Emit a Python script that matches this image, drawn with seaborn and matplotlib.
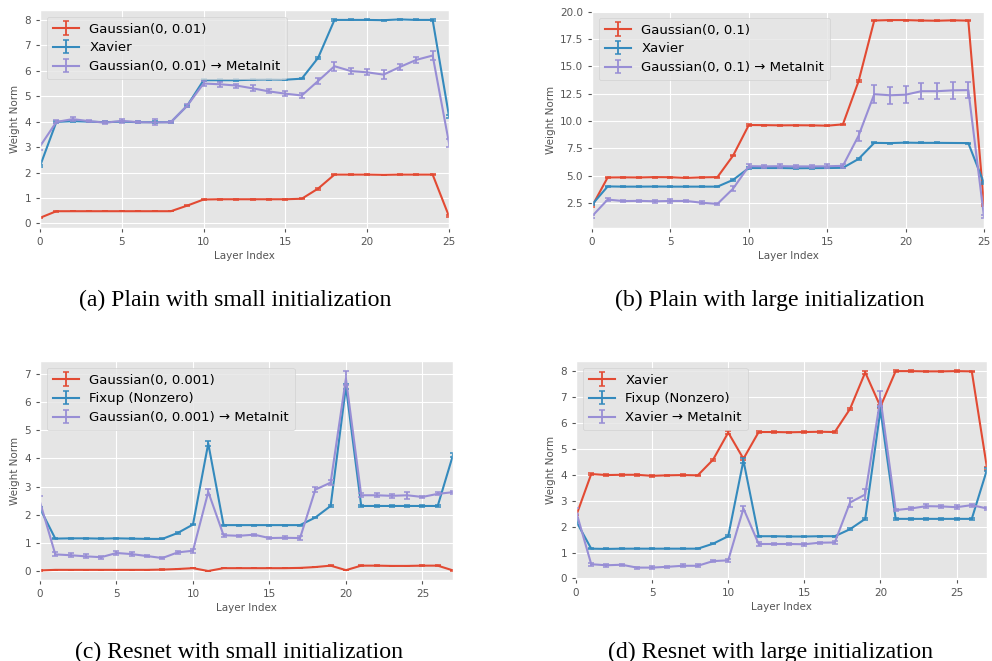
import matplotlib
matplotlib.use("Agg")
import matplotlib.pyplot as plt
from matplotlib.container import ErrorbarContainer
import seaborn as sns
import pandas as pd

# ---------------- data ----------------
layers_plain = list(range(26))
layers_res = list(range(28))

a_labels = ["Gaussian(0, 0.01)", "Xavier", "Gaussian(0, 0.01) → MetaInit"]
a_gauss = [0.22, 0.48, 0.48, 0.48, 0.48, 0.48, 0.48, 0.48, 0.48, 0.70, 0.94, 0.95, 0.95,
           0.95, 0.95, 0.95, 0.97, 1.37, 1.92, 1.92, 1.92, 1.91, 1.92, 1.92, 1.92, 0.28]
a_gauss_err = [0.02, 0.02, 0.01, 0.01, 0.01, 0.01, 0.01, 0.01, 0.01, 0.02, 0.02, 0.01, 0.01,
               0.01, 0.01, 0.01, 0.02, 0.04, 0.02, 0.01, 0.01, 0.01, 0.01, 0.01, 0.02, 0.04]
a_xavier = [2.25, 3.99, 4.02, 4.00, 3.98, 4.00, 3.98, 3.98, 3.98, 4.63, 5.63, 5.63, 5.63,
            5.65, 5.66, 5.65, 5.69, 6.51, 8.00, 8.00, 8.00, 7.99, 8.02, 8.00, 8.00, 4.22]
a_xavier_err = [0.04, 0.04, 0.03, 0.03, 0.03, 0.03, 0.03, 0.03, 0.03, 0.04, 0.04, 0.03, 0.03,
                0.03, 0.03, 0.03, 0.03, 0.04, 0.03, 0.02, 0.02, 0.02, 0.02, 0.02, 0.03, 0.06]
a_meta = [3.03, 3.99, 4.10, 4.02, 3.96, 4.03, 3.98, 3.97, 3.98, 4.63, 5.50, 5.47, 5.42,
          5.31, 5.19, 5.10, 5.03, 5.60, 6.18, 5.99, 5.94, 5.85, 6.15, 6.43, 6.60, 3.16]
a_meta_err = [0.15, 0.06, 0.08, 0.05, 0.06, 0.09, 0.05, 0.12, 0.05, 0.06, 0.08, 0.10, 0.08,
              0.12, 0.08, 0.10, 0.08, 0.10, 0.17, 0.13, 0.12, 0.17, 0.10, 0.12, 0.17, 0.15]

b_labels = ["Gaussian(0, 0.1)", "Xavier", "Gaussian(0, 0.1) → MetaInit"]
b_gauss = [2.20, 4.84, 4.85, 4.84, 4.87, 4.86, 4.80, 4.85, 4.87, 6.84, 9.63, 9.62, 9.60,
           9.61, 9.60, 9.57, 9.69, 13.63, 19.18, 19.22, 19.22, 19.18, 19.16, 19.20, 19.17, 2.30]
b_gauss_err = [0.08, 0.06, 0.04, 0.04, 0.04, 0.04, 0.04, 0.04, 0.05, 0.08, 0.06, 0.04, 0.04,
               0.04, 0.04, 0.04, 0.05, 0.10, 0.06, 0.04, 0.04, 0.04, 0.04, 0.04, 0.06, 0.10]
b_xavier = [2.35, 4.02, 4.00, 4.00, 4.01, 4.00, 4.00, 4.00, 4.00, 4.62, 5.70, 5.70, 5.70,
            5.68, 5.69, 5.70, 5.72, 6.53, 8.00, 7.98, 8.02, 8.00, 8.00, 7.99, 7.98, 4.30]
b_xavier_err = [0.06, 0.05, 0.04, 0.04, 0.04, 0.04, 0.04, 0.04, 0.04, 0.06, 0.06, 0.04, 0.04,
                0.04, 0.04, 0.04, 0.04, 0.06, 0.05, 0.04, 0.04, 0.04, 0.04, 0.04, 0.05, 0.08]
b_meta = [1.29, 2.82, 2.68, 2.70, 2.66, 2.69, 2.69, 2.53, 2.42, 3.82, 5.87, 5.85, 5.87,
          5.85, 5.85, 5.86, 5.90, 8.65, 12.45, 12.35, 12.40, 12.72, 12.72, 12.80, 12.82, 1.25]
b_meta_err = [0.12, 0.15, 0.12, 0.12, 0.12, 0.14, 0.12, 0.12, 0.12, 0.20, 0.18, 0.14, 0.16,
              0.14, 0.14, 0.17, 0.16, 0.45, 0.80, 0.80, 0.80, 0.75, 0.75, 0.75, 0.75, 0.15]

c_labels = ["Gaussian(0, 0.001)", "Fixup (Nonzero)", "Gaussian(0, 0.001) → MetaInit"]
c_gauss = [0.02, 0.04, 0.04, 0.04, 0.04, 0.04, 0.04, 0.04, 0.05, 0.07, 0.10, 0.00, 0.10, 0.10,
           0.10, 0.10, 0.10, 0.11, 0.14, 0.19, 0.03, 0.19, 0.19, 0.18, 0.18, 0.19, 0.19, 0.02]
c_gauss_err = [0.01, 0.01, 0.01, 0.01, 0.01, 0.01, 0.01, 0.01, 0.01, 0.01, 0.01, 0.01, 0.01, 0.01,
               0.01, 0.01, 0.01, 0.01, 0.01, 0.01, 0.01, 0.01, 0.01, 0.01, 0.01, 0.01, 0.01, 0.01]
c_fixup = [2.22, 1.15, 1.16, 1.16, 1.15, 1.16, 1.15, 1.14, 1.14, 1.35, 1.65, 4.53, 1.63, 1.63,
           1.63, 1.63, 1.63, 1.63, 1.90, 2.31, 6.55, 2.31, 2.31, 2.31, 2.31, 2.31, 2.31, 4.12]
c_fixup_err = [0.04, 0.02, 0.02, 0.02, 0.02, 0.02, 0.02, 0.02, 0.02, 0.02, 0.03, 0.08, 0.02, 0.02,
               0.02, 0.02, 0.02, 0.02, 0.03, 0.03, 0.10, 0.03, 0.03, 0.03, 0.03, 0.03, 0.03, 0.06]
c_meta = [2.45, 0.59, 0.56, 0.52, 0.49, 0.64, 0.60, 0.53, 0.46, 0.66, 0.72, 2.81, 1.27, 1.25,
          1.29, 1.17, 1.18, 1.17, 2.89, 3.14, 6.84, 2.69, 2.69, 2.67, 2.69, 2.63, 2.74, 2.80]
c_meta_err = [0.20, 0.07, 0.07, 0.07, 0.06, 0.06, 0.06, 0.05, 0.04, 0.06, 0.07, 0.12, 0.05, 0.04,
              0.04, 0.05, 0.06, 0.06, 0.10, 0.08, 0.25, 0.07, 0.07, 0.07, 0.12, 0.05, 0.05, 0.05]

d_labels = ["Xavier", "Fixup (Nonzero)", "Xavier → MetaInit"]
d_xavier = [2.40, 4.03, 3.99, 4.00, 4.00, 3.96, 3.98, 3.99, 3.98, 4.58, 5.63, 4.62, 5.65, 5.65,
            5.64, 5.65, 5.66, 5.65, 6.54, 7.95, 6.63, 8.00, 8.00, 7.99, 7.99, 8.00, 7.99, 4.26]
d_xavier_err = [0.05, 0.04, 0.03, 0.03, 0.03, 0.03, 0.03, 0.03, 0.03, 0.04, 0.05, 0.06, 0.03, 0.03,
                0.03, 0.03, 0.03, 0.03, 0.05, 0.05, 0.06, 0.03, 0.03, 0.03, 0.03, 0.03, 0.03, 0.06]
d_fixup = [2.22, 1.15, 1.14, 1.15, 1.15, 1.15, 1.15, 1.15, 1.15, 1.34, 1.63, 4.55, 1.63, 1.63,
           1.62, 1.62, 1.63, 1.63, 1.90, 2.30, 6.50, 2.30, 2.30, 2.30, 2.30, 2.30, 2.30, 4.20]
d_fixup_err = c_fixup_err
d_meta = [2.60, 0.55, 0.51, 0.53, 0.42, 0.42, 0.45, 0.49, 0.49, 0.67, 0.70, 2.70, 1.33, 1.33,
          1.33, 1.32, 1.38, 1.39, 2.93, 3.24, 6.95, 2.64, 2.70, 2.79, 2.78, 2.75, 2.83, 2.70]
d_meta_err = [0.12, 0.05, 0.05, 0.04, 0.04, 0.06, 0.05, 0.05, 0.06, 0.05, 0.06, 0.10, 0.06, 0.04,
              0.05, 0.06, 0.04, 0.05, 0.18, 0.20, 0.28, 0.05, 0.07, 0.07, 0.06, 0.08, 0.06, 0.05]

captions = ["(a) Plain with small initialization", "(b) Plain with large initialization",
            "(c) Resnet with small initialization", "(d) Resnet with large initialization"]

# ---------------- style ----------------
plt.style.use("ggplot")
colors = ["#E24A33", "#348ABD", "#988ED5"]
W, H = 992, 661
fig = plt.figure(figsize=(W / 100, H / 100), dpi=100)


def px_axes(left, right, top, bottom):
    return fig.add_axes([left / W, 1 - bottom / H, (right - left) / W, (bottom - top) / H])


def panel(ax, xs, series, errs, labels, xlim, ylim, yticks):
    handles = []
    for ys, es, lab, col in zip(series, errs, labels, colors):
        df = pd.DataFrame({"layer": xs, "norm": ys})
        sns.lineplot(data=df, x="layer", y="norm", ax=ax, color=col, linewidth=1.5,
                     legend=False, errorbar=None)
        line = ax.lines[-1]
        eb = ax.errorbar(xs, ys, yerr=es, fmt="none", ecolor=col, elinewidth=1.3,
                         capsize=2.5, capthick=1.1)
        handles.append(ErrorbarContainer((line, eb.lines[1], eb.lines[2]),
                                         has_xerr=False, has_yerr=True, label=lab))
    ax.set_xlim(*xlim)
    ax.set_ylim(*ylim)
    ax.set_xticks([0, 5, 10, 15, 20, 25])
    ax.set_yticks(yticks)
    ax.tick_params(labelsize=7.5, colors="#555555", length=3)
    ax.set_xlabel("Layer Index", fontsize=7.5, color="#555555", labelpad=3)
    ax.set_ylabel("Weight Norm", fontsize=7.5, color="#555555", labelpad=3)
    ax.legend(handles=handles, labels=labels, loc="upper left", fontsize=9.5,
              handlelength=2.0, borderpad=0.45, labelspacing=0.45, handletextpad=0.8)


ax_a = px_axes(40, 449, 10, 228)
panel(ax_a, layers_plain, [a_gauss, a_xavier, a_meta], [a_gauss_err, a_xavier_err, a_meta_err],
      a_labels, (0, 25), (-0.18, 8.39), [0, 1, 2, 3, 4, 5, 6, 7, 8])

ax_b = px_axes(592, 984, 11, 228)
panel(ax_b, layers_plain, [b_gauss, b_xavier, b_meta], [b_gauss_err, b_xavier_err, b_meta_err],
      b_labels, (0, 25), (0.22, 20.05), [2.5, 5.0, 7.5, 10.0, 12.5, 15.0, 17.5, 20.0])

ax_c = px_axes(40, 453, 361, 580)
panel(ax_c, layers_res, [c_gauss, c_fixup, c_meta], [c_gauss_err, c_fixup_err, c_meta_err],
      c_labels, (0, 27), (-0.32, 7.46), [0, 1, 2, 3, 4, 5, 6, 7])

ax_d = px_axes(576, 987, 361, 579)
panel(ax_d, layers_res, [d_xavier, d_fixup, d_meta], [d_xavier_err, d_fixup_err, d_meta_err],
      d_labels, (0, 27), (-0.02, 8.39), [0, 1, 2, 3, 4, 5, 6, 7, 8])

cap_pos = [(235, 300), (770, 300), (239, 652), (771, 652)]
for (cx, cy), txt in zip(cap_pos, captions):
    fig.text(cx / W, 1 - cy / H, txt, ha="center", va="center", fontsize=17.1,
             family="Liberation Serif", color="black")

fig.savefig("out.png", dpi=100)
